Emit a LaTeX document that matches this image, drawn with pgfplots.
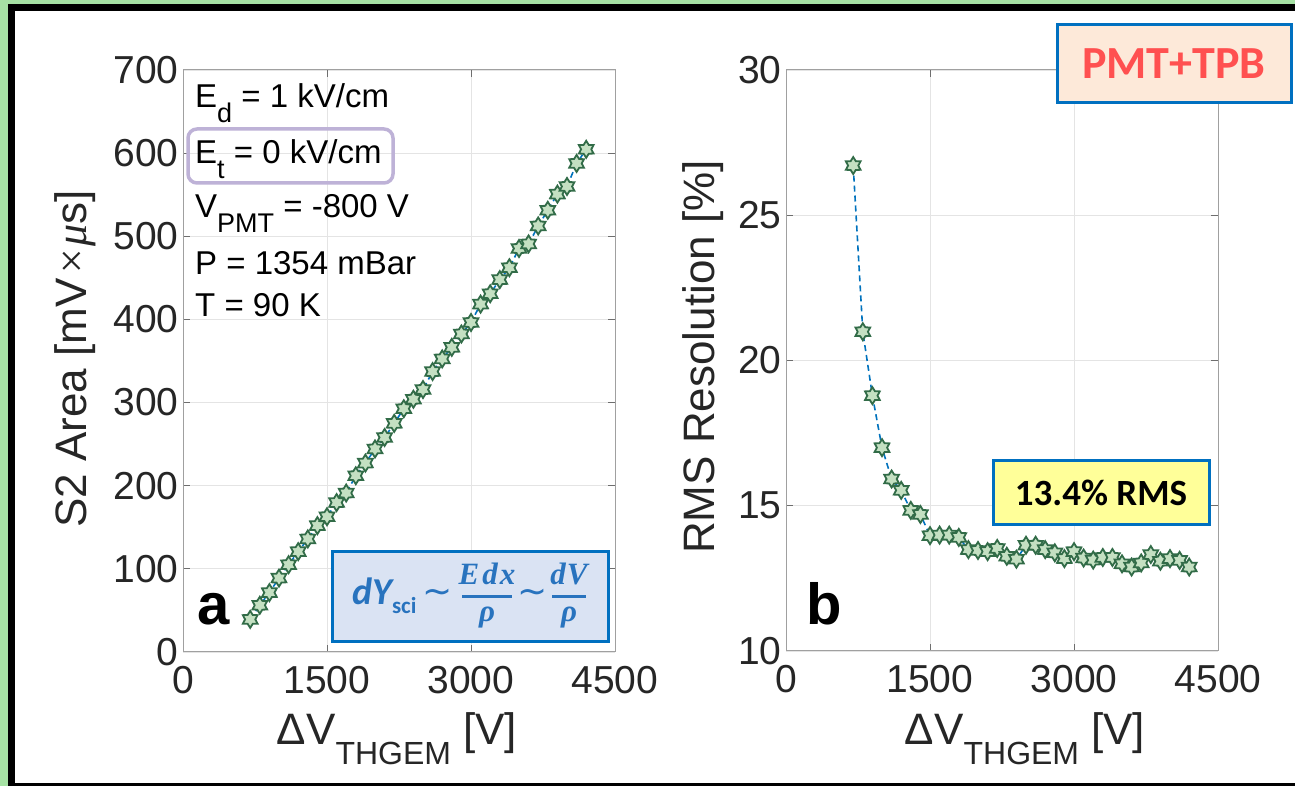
\documentclass[border=0pt]{standalone}
\usepackage{pgfplots}
\pgfplotsset{compat=1.18}
\usepackage{fontspec}
\setmainfont{Liberation Sans}
\newfontfamily\calibri{Carlito}
\newfontfamily\serifbi{Liberation Serif}
\newfontfamily\dejavu{DejaVu Sans}
\definecolor{bggreen}{RGB}{166,226,164}
\definecolor{mfill}{RGB}{196,224,194}
\definecolor{medge}{RGB}{50,108,72}
\definecolor{mblue}{RGB}{0,114,189}
\definecolor{axgray}{RGB}{160,160,160}
\definecolor{tickgray}{RGB}{110,110,110}
\definecolor{gridgray}{RGB}{228,228,228}
\definecolor{labgray}{RGB}{38,38,38}
\definecolor{boxblue}{RGB}{0,112,192}
\definecolor{fblue}{RGB}{40,115,190}
\definecolor{ffill}{RGB}{218,227,243}
\definecolor{purp}{RGB}{190,178,215}
\definecolor{peach}{RGB}{253,233,217}
\definecolor{pred}{RGB}{255,80,80}
\definecolor{yel}{RGB}{255,255,153}

\pgfdeclareplotmark{hexstar}{%
  \pgfpathmoveto{\pgfpointpolar{90}{\pgfplotmarksize}}%
  \pgfpathlineto{\pgfpointpolar{120}{0.6\pgfplotmarksize}}%
  \pgfpathlineto{\pgfpointpolar{150}{\pgfplotmarksize}}%
  \pgfpathlineto{\pgfpointpolar{180}{0.6\pgfplotmarksize}}%
  \pgfpathlineto{\pgfpointpolar{210}{\pgfplotmarksize}}%
  \pgfpathlineto{\pgfpointpolar{240}{0.6\pgfplotmarksize}}%
  \pgfpathlineto{\pgfpointpolar{270}{\pgfplotmarksize}}%
  \pgfpathlineto{\pgfpointpolar{300}{0.6\pgfplotmarksize}}%
  \pgfpathlineto{\pgfpointpolar{330}{\pgfplotmarksize}}%
  \pgfpathlineto{\pgfpointpolar{0}{0.6\pgfplotmarksize}}%
  \pgfpathlineto{\pgfpointpolar{30}{\pgfplotmarksize}}%
  \pgfpathlineto{\pgfpointpolar{60}{0.6\pgfplotmarksize}}%
  \pgfpathclose
  \pgfusepathqfillstroke
}

\pgfplotstableread{
x y
700 39.2
800 56.2
900 71.4
1000 88.9
1100 105
1200 120.7
1300 136
1400 152
1500 162.7
1600 179.7
1700 191.2
1800 212
1900 227.2
2000 244.2
2100 258
2200 275
2300 292.6
2400 304
2500 315.7
2600 337.3
2700 352.5
2800 366.4
2900 382.5
3000 396.3
3100 418.4
3200 430.9
3300 447.9
3400 462.2
3500 485.3
3600 490.8
3700 512.4
3800 531.3
3900 550.7
4000 559.9
4100 587.6
4200 604.6
}\areadata

\pgfplotstableread{
x y
700 26.71
800 20.99
900 18.79
1000 17.00
1100 15.92
1200 15.53
1300 14.84
1400 14.70
1500 13.97
1600 13.99
1700 13.99
1800 13.91
1900 13.49
2000 13.46
2100 13.42
2200 13.53
2300 13.26
2400 13.16
2500 13.64
2600 13.64
2700 13.49
2800 13.38
2900 13.18
3000 13.42
3100 13.20
3200 13.13
3300 13.22
3400 13.22
3500 13.00
3600 12.89
3700 13.03
3800 13.32
3900 13.09
4000 13.18
4100 13.12
4200 12.89
}\resdata

\pgfplotsset{myax/.style={
  scale only axis, anchor=south west,
  axis line style={draw=axgray, line width=1pt},
  tick style={color=tickgray, line width=1pt},
  tick align=inside, major tick length=7pt,
  grid=major, major grid style={color=gridgray, line width=0.8pt},
  xmin=0, xmax=4500, xtick={0,1500,3000,4500},
  scaled ticks=false,
  /pgf/number format/1000 sep={},
  /pgf/number format/assume math mode=true,
  ticklabel style={font=\fontsize{39}{44}\selectfont, text=labgray},
  yticklabel style={xshift=-1pt},
  xticklabel style={yshift=-11pt},
}}
\pgfplotsset{myplot/.style={color=mblue, line width=1.6pt, dash pattern=on 6pt off 4pt,
  mark=hexstar, mark size=8.5pt,
  mark options={solid, fill=mfill, draw=medge, line width=1.8pt}}}

\newcommand\subs[2]{\raisebox{-0.45em}{\fontsize{#1}{#1}\selectfont #2}}

\begin{document}
\begin{tikzpicture}[x=1pt,y=1pt]
\fill[bggreen] (0,0) rectangle (1295,786);
\fill[black] (8,0) rectangle (1295,782);
\fill[white] (15,3) rectangle (1295,775);

\begin{axis}[myax, at={(183pt,134pt)}, width=432pt, height=582pt,
  ymin=0, ymax=700, ytick={0,100,...,700}]
\addplot[myplot] table[x=x,y=y] {\areadata};
\end{axis}

\begin{axis}[myax, at={(786pt,135pt)}, width=432pt, height=581pt,
  ymin=10, ymax=30, ytick={10,15,20,25,30}]
\addplot[myplot] table[x=x,y=y] {\resdata};
\end{axis}

% axis labels
\node[rotate=90, text=labgray, font=\fontsize{44}{48}\selectfont] at (75,427)
  {S2 Area [mV{\serifbi\itshape\kern2pt ×μ}s]};
\node[rotate=90, text=labgray, font=\fontsize{44}{48}\selectfont] at (703,429)
  {RMS Resolution [\%]};
\node[anchor=base, text=labgray, font=\fontsize{44}{48}\selectfont] at (397,41)
  {ΔV\subs{32}{THGEM} [V]};
\node[anchor=base, text=labgray, font=\fontsize{44}{48}\selectfont] at (1025,41)
  {ΔV\subs{32}{THGEM} [V]};

% parameter text
\draw[purp, line width=3.5pt, rounded corners=9pt] (188,603) rectangle (393,657);
\begin{scope}[every node/.style={anchor=base west, inner sep=0pt, font=\fontsize{33}{36}\selectfont}]
\node at (195,678) {E\subs{27}{d} = 1 kV/cm};
\node at (195,622) {E\subs{27}{t} = 0 kV/cm};
\node at (195,568) {V\subs{27}{PMT} = -800 V};
\node at (195,511) {P = 1354 mBar};
\node at (195,469) {T = 90 K};
\end{scope}

% panel letters
\node[anchor=base west, inner sep=0pt, font=\fontsize{58}{60}\selectfont\bfseries] at (197,161) {a};
\node[anchor=base west, inner sep=0pt, font=\fontsize{58}{60}\selectfont\bfseries] at (806,161) {b};

% formula box
\draw[boxblue, fill=ffill, line width=3pt] (332,144) rectangle (608,234);
\node[anchor=base west, inner sep=0pt, text=fblue, font=\fontsize{38}{40}\selectfont\calibri\bfseries\itshape] at (352,181) {dY\raisebox{-0.22em}{\fontsize{23}{23}\selectfont\upshape sci}};
\node[text=fblue, font=\fontsize{36}{36}\selectfont\dejavu] at (438,190) {∼};
\node[text=fblue, font=\fontsize{36}{36}\selectfont\dejavu] at (533,190) {∼};
\node[anchor=base, inner sep=0pt, text=fblue, font=\fontsize{31}{31}\selectfont\serifbi\bfseries\itshape] at (487,201) {E\kern3pt d\kern2pt x};
\draw[fblue, line width=3pt] (462,189) -- (512,189);
\node[anchor=base, inner sep=0pt, text=fblue, font=\fontsize{31}{31}\selectfont\serifbi\bfseries\itshape] at (487,164) {ρ};
\node[anchor=base, inner sep=0pt, text=fblue, font=\fontsize{31}{31}\selectfont\serifbi\bfseries\itshape] at (569,201) {d\kern1pt V};
\draw[fblue, line width=3pt] (552,189) -- (586,189);
\node[anchor=base, inner sep=0pt, text=fblue, font=\fontsize{31}{31}\selectfont\serifbi\bfseries\itshape] at (569,164) {ρ};

% PMT+TPB box
\draw[boxblue, fill=peach, line width=3pt] (1057,683) rectangle (1291,761);
\node[text=pred, font=\fontsize{46}{48}\selectfont\calibri\bfseries] at (1174,722) {PMT+TPB};

% 13.4% RMS box
\draw[boxblue, fill=yel, line width=3pt] (993,261) rectangle (1209,325);
\node[text=black, font=\fontsize{37}{40}\selectfont\calibri\bfseries] at (1101,293) {13.4\% RMS};
\end{tikzpicture}
\end{document}
